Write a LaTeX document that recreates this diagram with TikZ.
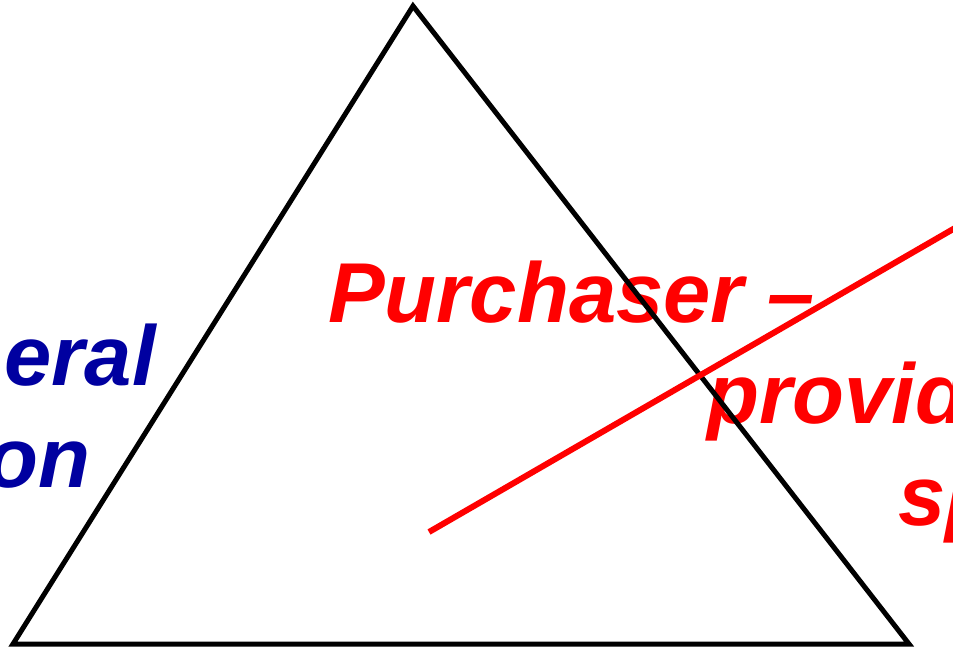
\documentclass[tikz,border=0pt]{standalone}
\usepackage{fontspec}
\setmainfont{Liberation Sans}
\definecolor{darkblue}{RGB}{0,0,160}
\definecolor{pure}{RGB}{255,0,0}
\tikzset{
  bigtxt/.style={inner sep=0pt, font=\fontsize{85}{100}\selectfont\bfseries\itshape},
  redtxt/.style={bigtxt, text=pure, anchor=base west},
  bluetxt/.style={bigtxt, text=darkblue, anchor=base east},
  tri/.style={draw=black, line width=5pt, line join=miter},
  cross/.style={draw=pure, line width=6pt}
}
\begin{document}
\begin{tikzpicture}[x=1pt,y=-1pt]
\useasboundingbox (0,0) rectangle (953,649);
\clip (0,0) rectangle (953,649);
\node[redtxt] (t1) at (328,322) {Purchaser –};
\node[redtxt] (t2) at (707,423) {provid};
\node[redtxt] (t3) at (898,525) {sp};
\node[bluetxt] (b1) at (156,385) {eral};
\node[bluetxt] (b2) at (91,487) {on};
\coordinate (A) at (413,6);
\coordinate (B) at (13,644);
\coordinate (C) at (909,644);
\draw[tri] (A) -- (B) -- (C) -- cycle;
\coordinate (r1) at (429,532);
\coordinate (r2) at (1000,202);
\draw[cross] (r1) -- (r2);
\end{tikzpicture}
\end{document}
